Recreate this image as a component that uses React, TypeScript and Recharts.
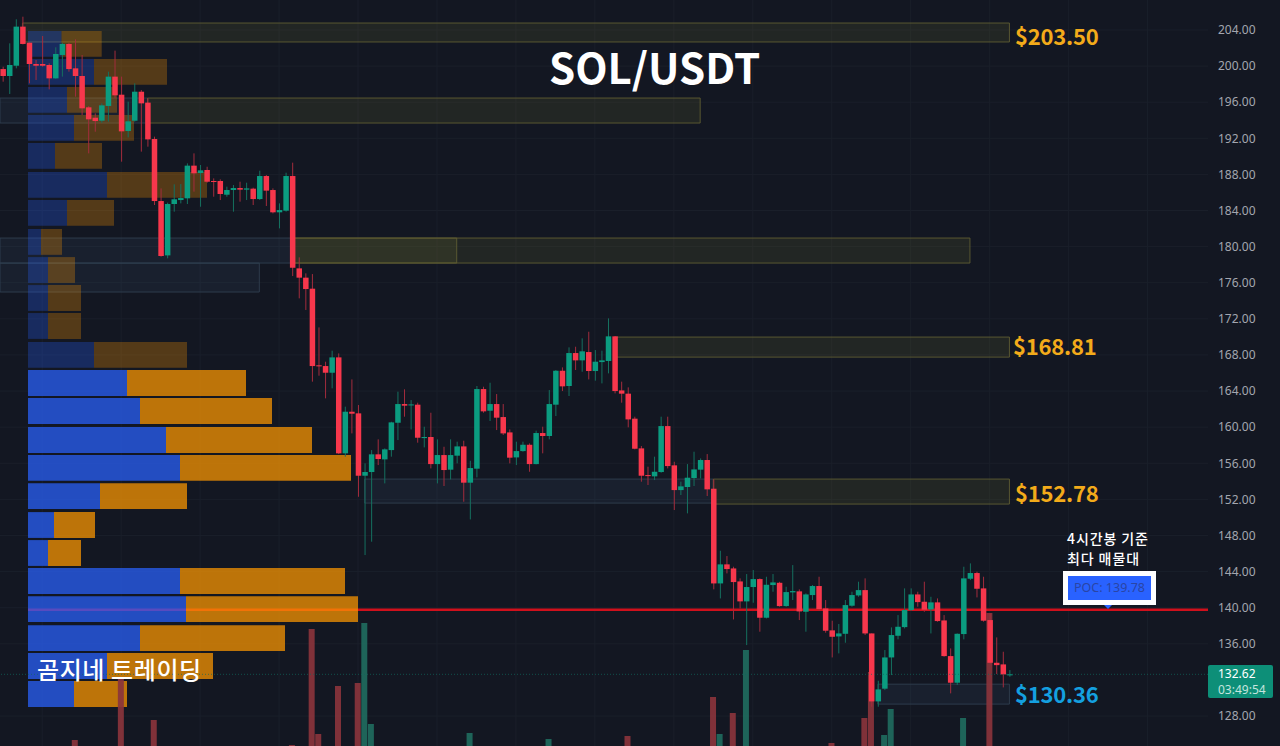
import { Bar, CartesianGrid, Cell, ComposedChart, ReferenceArea, ReferenceLine, XAxis, YAxis } from "recharts";

const WIDTH = 1280;
const HEIGHT = 746;

const UP = "#0b9c80";
const DOWN = "#f7374c";
const UP_WICK = "#15705f";
const DOWN_WICK = "#a32c3d";

const opens = [
  199.67, 198.9, 200.04, 204.37, 202.59, 200.23, 200.23, 200.12, 198.64, 201.23,
  202.45, 199.75, 198.9, 195.43, 194.28, 193.95, 195.58, 198.83, 196.83, 192.81,
  193.95, 197.16, 195.95, 191.92, 185.05, 179.03, 184.72, 185.16, 185.35, 188.97,
  188.15, 188.49, 187.27, 187.27, 185.75, 186.27, 186.49, 186.31, 186.42, 185.27,
  187.82, 186.27, 183.8, 183.98, 187.82, 177.59, 176.56, 175.34, 166.85, 166.77,
  166.03, 167.73, 157.1, 161.71, 161.53, 154.62, 155.03, 156.99, 156.43, 157.46,
  160.49, 162.56, 162.41, 162.49, 158.79, 158.91, 155.91, 156.91, 155.29, 156.84,
  157.87, 153.85, 155.4, 164.22, 161.82, 162.56, 161.12, 159.42, 156.65, 157.35,
  158.05, 155.91, 159.35, 159.02, 162.49, 166.25, 164.56, 168.21, 167.4, 168.32,
  166.22, 167.21, 167.33, 170.06, 164.07, 163.71, 160.94, 157.65, 154.69, 154.55,
  155.03, 160.12, 155.77, 153.03, 153.37, 154.36, 155.29, 156.36, 153.18, 142.69,
  144.8, 144.35, 142.91, 140.7, 142.29, 143.17, 138.89, 142.51, 142.76, 140.18,
  141.7, 141.81, 139.55, 141.4, 142.4, 139.92, 137.49, 136.82, 137.11, 140.22,
  141.36, 141.95, 137.15, 129.62, 131.03, 134.49, 136.89, 137.85, 139.74, 141.47,
  140.66, 139.81, 140.59, 138.59, 134.64, 131.69, 137.08, 143.21, 143.84, 142.14,
  138.63, 133.9, 133.72, 132.55,
];

const closes = [
  198.9, 200.12, 204.37, 202.45, 200.23, 200.04, 200.04, 198.64, 201.34, 202.45,
  199.67, 198.9, 195.32, 194.1, 193.91, 195.65, 198.83, 196.76, 192.77, 193.88,
  197.16, 195.87, 191.88, 185.05, 178.96, 184.72, 185.24, 185.38, 188.97, 188.12,
  188.45, 187.19, 187.16, 185.83, 186.27, 186.49, 186.31, 186.45, 185.27, 187.82,
  186.2, 183.8, 184.05, 187.82, 177.66, 176.56, 175.3, 166.77, 166.77, 166.03,
  167.73, 157.1, 161.71, 161.49, 154.62, 155.03, 156.99, 156.47, 157.54, 160.53,
  162.56, 162.38, 162.52, 158.83, 158.91, 155.91, 156.91, 155.25, 156.91, 157.87,
  153.85, 155.47, 164.22, 161.75, 162.56, 161.05, 159.31, 156.62, 157.35, 158.05,
  155.91, 159.35, 159.02, 162.56, 166.25, 164.52, 168.21, 167.4, 168.4, 166.22,
  167.25, 167.4, 170.06, 164.0, 163.71, 160.86, 157.61, 154.62, 154.58, 155.06,
  160.12, 155.69, 153.03, 153.44, 154.4, 155.32, 156.36, 153.11, 142.69, 144.8,
  144.28, 142.84, 140.7, 142.29, 143.17, 138.89, 142.54, 142.8, 140.18, 141.73,
  141.84, 139.59, 141.47, 142.4, 139.85, 137.45, 136.78, 137.15, 140.29, 141.4,
  141.95, 137.15, 129.62, 130.95, 134.49, 136.97, 137.89, 139.74, 141.47, 140.62,
  139.78, 140.59, 138.52, 134.64, 131.69, 137.11, 143.25, 143.84, 142.1, 138.56,
  133.9, 133.64, 132.61, 132.62,
];

const highs = [
  199.93, 202.52, 205.18, 205.47, 202.6, 200.67, 203.33, 200.3, 202.08, 202.59,
  202.59, 202.96, 201.23, 195.58, 194.76, 195.87, 199.38, 201.71, 198.83, 196.06,
  198.09, 197.35, 196.43, 192.18, 186.45, 184.87, 186.9, 186.93, 189.22, 190.33,
  189.04, 188.85, 187.56, 187.45, 186.64, 186.82, 187.19, 187.08, 186.53, 188.41,
  187.93, 186.45, 184.79, 188.19, 189.3, 178.81, 177.04, 176.96, 171.05, 167.25,
  168.47, 168.17, 162.27, 165.29, 162.45, 155.99, 157.46, 158.65, 157.65, 160.6,
  163.93, 164.19, 163.0, 162.71, 160.05, 161.6, 158.65, 157.83, 158.65, 158.39,
  158.5, 156.28, 164.56, 164.48, 164.92, 163.67, 162.56, 159.75, 158.39, 158.39,
  158.2, 159.61, 160.05, 164.11, 166.33, 166.62, 168.84, 168.91, 169.84, 170.57,
  168.54, 168.47, 172.05, 170.1, 165.04, 164.41, 161.16, 157.91, 155.62, 156.73,
  161.16, 161.16, 156.17, 153.96, 155.91, 157.28, 156.54, 157.02, 154.21, 146.31,
  145.72, 144.54, 143.25, 143.73, 144.17, 143.25, 143.43, 143.73, 142.87, 142.32,
  144.72, 142.03, 141.59, 142.51, 143.43, 140.85, 138.56, 138.19, 140.85, 141.77,
  142.88, 143.25, 137.15, 131.91, 135.31, 137.82, 139.18, 142.14, 142.14, 141.77,
  142.88, 141.21, 141.03, 139.18, 135.49, 137.15, 144.54, 144.91, 143.99, 143.43,
  139.37, 136.71, 135.12, 133.09,
];

const lows = [
  198.27, 196.91, 199.75, 202.4, 198.09, 198.46, 199.93, 197.42, 198.6, 198.83,
  199.38, 196.61, 194.58, 190.33, 192.73, 193.73, 193.84, 196.43, 189.41, 192.1,
  193.84, 190.52, 191.07, 184.61, 178.88, 178.7, 183.87, 184.79, 184.72, 186.09,
  184.42, 187.08, 185.53, 185.16, 185.53, 183.87, 184.98, 185.16, 184.61, 185.16,
  184.5, 183.68, 182.02, 183.87, 176.74, 174.27, 172.98, 165.04, 165.7, 163.19,
  164.3, 157.02, 156.73, 159.31, 152.29, 145.83, 147.31, 155.8, 153.77, 156.73,
  158.57, 161.16, 159.75, 158.28, 157.76, 155.43, 153.77, 153.48, 154.21, 155.99,
  151.74, 149.78, 154.44, 161.6, 160.68, 159.68, 159.13, 155.99, 155.8, 157.28,
  155.06, 155.88, 157.1, 158.65, 161.23, 164.0, 163.45, 166.33, 166.14, 165.29,
  165.15, 164.85, 165.96, 163.74, 162.71, 159.98, 157.54, 153.96, 153.59, 154.14,
  154.95, 155.43, 150.82, 152.48, 150.45, 153.48, 154.32, 152.37, 142.03, 141.03,
  143.8, 138.7, 139.92, 135.86, 140.55, 137.34, 138.81, 141.77, 140.11, 140.11,
  140.85, 138.63, 137.34, 140.85, 139.66, 137.23, 134.49, 134.94, 136.12, 140.11,
  141.21, 136.97, 129.03, 129.03, 130.87, 132.54, 136.49, 137.7, 139.66, 140.11,
  139.55, 137.15, 138.45, 134.57, 130.51, 131.43, 136.49, 143.06, 141.14, 138.45,
  133.83, 132.65, 131.17, 132.35,
];

// only the volume bars that rise into the visible window
const volumeCandles = [11, 18, 23, 44, 47, 48, 51, 54, 55, 56, 71, 83, 95, 108, 109, 111, 113, 126, 131, 132, 134, 135, 146, 150];
const volumeValues = [6, 68, 26, 1, 117, 12, 60, 63, 123, 22, 13, 7, 10, 49, 12, 33, 96, 3, 28, 74, 11, 37, 28, 133];

// volume profile rows, top to bottom
const profileTops = [
  203.89, 200.78, 197.68, 194.58, 191.48, 188.26, 185.16, 181.95, 178.84, 175.74, 172.64, 169.43,
  166.32, 163.22, 160.01, 156.91, 153.8, 150.59, 147.49, 144.39, 141.28, 138.07, 134.97, 131.87,
];
const profileBuy = [33.5, 66, 39, 46, 27, 79, 39, 13, 20, 20, 20, 66, 99, 112, 138, 152, 72, 26, 20, 152, 158, 112, 79, 46];
const profileSell = [40.2, 73, 50, 60, 47, 100, 47, 21, 27, 33, 33, 93, 119, 132, 146, 171, 87, 41, 33, 165, 172, 145, 106, 53];
const PROFILE_ROW = 2.86;
const PROFILE_DIM_ROWS = 12;

// [from candle, to candle, top price, bottom price]
const supplyZones = [
  [3, 153, 204.77, 202.67],
  [22, 106, 196.46, 193.69],
  [44, 147, 180.95, 178.18],
  [44, 69, 180.95, 178.18],
  [93, 153, 169.98, 167.76],
  [108, 153, 154.25, 151.48],
];
const demandZones = [
  [-0.41, 22, 196.46, 193.69],
  [-0.41, 44, 180.95, 178.18],
  [-0.41, 39, 178.18, 174.97],
  [55, 108, 154.25, 151.59],
  [133, 153, 131.53, 129.32],
];

const priceTicks = [128, 136, 140, 144, 148, 152, 156, 160, 164, 168, 172, 176, 180, 184, 188, 192, 196, 200, 204];
const gridTicks = [6, 18, 30, 42, 54, 66, 78, 90, 102, 114, 126, 138, 150, 162, 174];

const POC_PRICE = 139.78;
const LAST_PRICE = 132.62;

const candleDomain = [-0.41, 183.18];
const priceDomain = [124.68, 207.32];

const candles = opens.map((open, i) => {
  const v = volumeCandles.indexOf(i);
  return {
    index: i,
    open,
    close: closes[i],
    high: highs[i],
    low: lows[i],
    volume: v >= 0 ? volumeValues[v] : 0,
  };
});

function Candle(props: any) {
  const { x, y, width, height, payload } = props;
  if (height == null) return null;
  const h = Math.abs(height);
  const top = height < 0 ? y + height : y;
  const perUnit = h / (payload.high - payload.low);
  const up = payload.close >= payload.open;
  const bodyTop = top + (payload.high - Math.max(payload.open, payload.close)) * perUnit;
  const bodyH = Math.max(Math.abs(payload.close - payload.open) * perUnit, 1);
  const cx = x + width / 2;
  return (
    <g>
      <line x1={cx} x2={cx} y1={top} y2={top + h} stroke={up ? UP_WICK : DOWN_WICK} strokeWidth={1} />
      <rect x={x} y={bodyTop} width={width} height={bodyH} fill={up ? UP : DOWN} />
    </g>
  );
}

const priceLabel = { position: "absolute", fontFamily: "'Noto Sans CJK KR', 'Noto Sans', sans-serif", fontWeight: 700, fontSize: 22, letterSpacing: -0.2, lineHeight: "30px", whiteSpace: "nowrap" } as const;

export default function App() {
  return (
    <div style={{ position: "fixed", left: 0, top: 0, width: WIDTH, height: HEIGHT, background: "#131722", overflow: "hidden" }}>
      <ComposedChart width={WIDTH} height={HEIGHT} data={candles} margin={{ top: 0, right: 0, bottom: 0, left: 0 }}>
        <XAxis xAxisId="candle" dataKey="index" type="number" domain={candleDomain} ticks={gridTicks} allowDataOverflow hide />
        <XAxis xAxisId="volume" dataKey="index" type="number" domain={candleDomain} allowDataOverflow hide />
        <XAxis xAxisId="profile" dataKey="index" type="number" domain={[-28, 1180]} allowDataOverflow hide />
        <YAxis
          yAxisId="price"
          orientation="right"
          width={72}
          type="number"
          domain={priceDomain}
          ticks={priceTicks}
          allowDataOverflow
          axisLine={false}
          tickLine={false}
          tickMargin={4}
          interval={0}
          tickFormatter={(v: number) => v.toFixed(2)}
          tick={{ fontSize: 12, fill: "#a3a6af", fontFamily: "'Noto Sans', sans-serif", textAnchor: "start" }}
        />
        <YAxis yAxisId="volume" type="number" domain={[0, HEIGHT]} allowDataOverflow hide />
        <CartesianGrid xAxisId="candle" yAxisId="price" stroke="#1a1f2a" syncWithTicks />

        <ReferenceLine
          xAxisId="profile"
          yAxisId="price"
          segment={[{ x: 0, y: POC_PRICE }, { x: 1180, y: POC_PRICE }]}
          stroke="#d0101c"
          strokeWidth={2.5}
          zIndex={50}
        />
        <ReferenceLine xAxisId="candle" yAxisId="price" y={LAST_PRICE} stroke="#0f6a5c" strokeDasharray="1 2" strokeOpacity={0.7} />

        {demandZones.map((z, i) => (
          <ReferenceArea
            key={"demand" + i}
            xAxisId="candle"
            yAxisId="price"
            x1={z[0]}
            x2={z[1]}
            y1={z[3]}
            y2={z[2]}
            fill="#5d84ac"
            fillOpacity={0.09}
            stroke="#303f50"
            strokeOpacity={0.9}
          />
        ))}
        {supplyZones.map((z, i) => (
          <ReferenceArea
            key={"supply" + i}
            xAxisId="candle"
            yAxisId="price"
            x1={z[0]}
            x2={z[1]}
            y1={z[3]}
            y2={z[2]}
            fill="#8d8a35"
            fillOpacity={0.13}
            stroke="#5f5d33"
            strokeOpacity={0.9}
          />
        ))}

        {profileTops.map((top, i) => (
          <ReferenceArea
            key={"buy" + i}
            xAxisId="profile"
            yAxisId="price"
            x1={0}
            x2={profileBuy[i]}
            y1={top - PROFILE_ROW}
            y2={top}
            fill="#2962ff"
            fillOpacity={i < PROFILE_DIM_ROWS ? 0.28 : 0.72}
            stroke="none"
          />
        ))}
        {profileTops.map((top, i) => (
          <ReferenceArea
            key={"sell" + i}
            xAxisId="profile"
            yAxisId="price"
            x1={profileBuy[i]}
            x2={profileBuy[i] + profileSell[i]}
            y1={top - PROFILE_ROW}
            y2={top}
            fill="#ff9800"
            fillOpacity={i < PROFILE_DIM_ROWS ? 0.28 : 0.72}
            stroke="none"
          />
        ))}

        <Bar xAxisId="volume" yAxisId="volume" dataKey="volume" barSize={6} isAnimationActive={false}>
          {candles.map((c) => (
            <Cell key={c.index} fill={c.close >= c.open ? "#1f6b5e" : "#8a343c"} fillOpacity={0.92} />
          ))}
        </Bar>
        <Bar
          xAxisId="candle"
          yAxisId="price"
          dataKey={(d: any) => [d.low, d.high]}
          barSize={5.5}
          shape={Candle}
          isAnimationActive={false}
        />
      </ComposedChart>

      <div style={{ position: "absolute", left: 549, top: 36, fontFamily: "'Noto Sans CJK KR', 'Noto Sans', sans-serif", fontWeight: 700, fontSize: 42, lineHeight: "60px", color: "#fff", whiteSpace: "nowrap" }}>
        SOL/USDT
      </div>
      <div style={{ ...priceLabel, left: 1015, top: 20, color: "#f3ab1a" }}>$203.50</div>
      <div style={{ ...priceLabel, left: 1013, top: 330, color: "#f3ab1a" }}>$168.81</div>
      <div style={{ ...priceLabel, left: 1015, top: 477, color: "#f3ab1a" }}>$152.78</div>
      <div style={{ ...priceLabel, left: 1015, top: 678, color: "#14a0e0" }}>$130.36</div>

      <div style={{ position: "absolute", left: 1067, top: 528, fontFamily: "'Noto Sans CJK KR', sans-serif", fontWeight: 500, fontSize: 14, lineHeight: "20px", letterSpacing: 0.9, color: "#fff", whiteSpace: "pre" }}>
        {"4시간봉 기준\n최다 매물대"}
      </div>
      <div style={{ position: "absolute", left: 1063, top: 571, width: 83, height: 24, border: "5px solid #fff", background: "#2962ff", color: "#2a45a5", fontFamily: "'Noto Sans', sans-serif", fontSize: 12.5, lineHeight: "24px", textAlign: "center", whiteSpace: "nowrap" }}>
        POC: 139.78
      </div>
      <div style={{ position: "absolute", left: 1104, top: 605, width: 0, height: 0, borderLeft: "4px solid transparent", borderRight: "4px solid transparent", borderTop: "4px solid #2962ff" }} />

      <div style={{ position: "absolute", left: 1208, top: 665, width: 55, height: 32, paddingLeft: 10, background: "#0d8f78", borderRadius: 2, fontFamily: "'Noto Sans', sans-serif", fontSize: 12, lineHeight: "16px", paddingTop: 1, color: "#fff" }}>
        <div>132.62</div>
        <div style={{ color: "#c4e5de" }}>03:49:54</div>
      </div>

      <div style={{ position: "absolute", left: 37, top: 652, fontFamily: "'Noto Sans CJK KR', sans-serif", fontWeight: 500, fontSize: 24, lineHeight: "34px", letterSpacing: 0.6, color: "#fff", whiteSpace: "nowrap" }}>
        곰지네 트레이딩
      </div>
    </div>
  );
}
